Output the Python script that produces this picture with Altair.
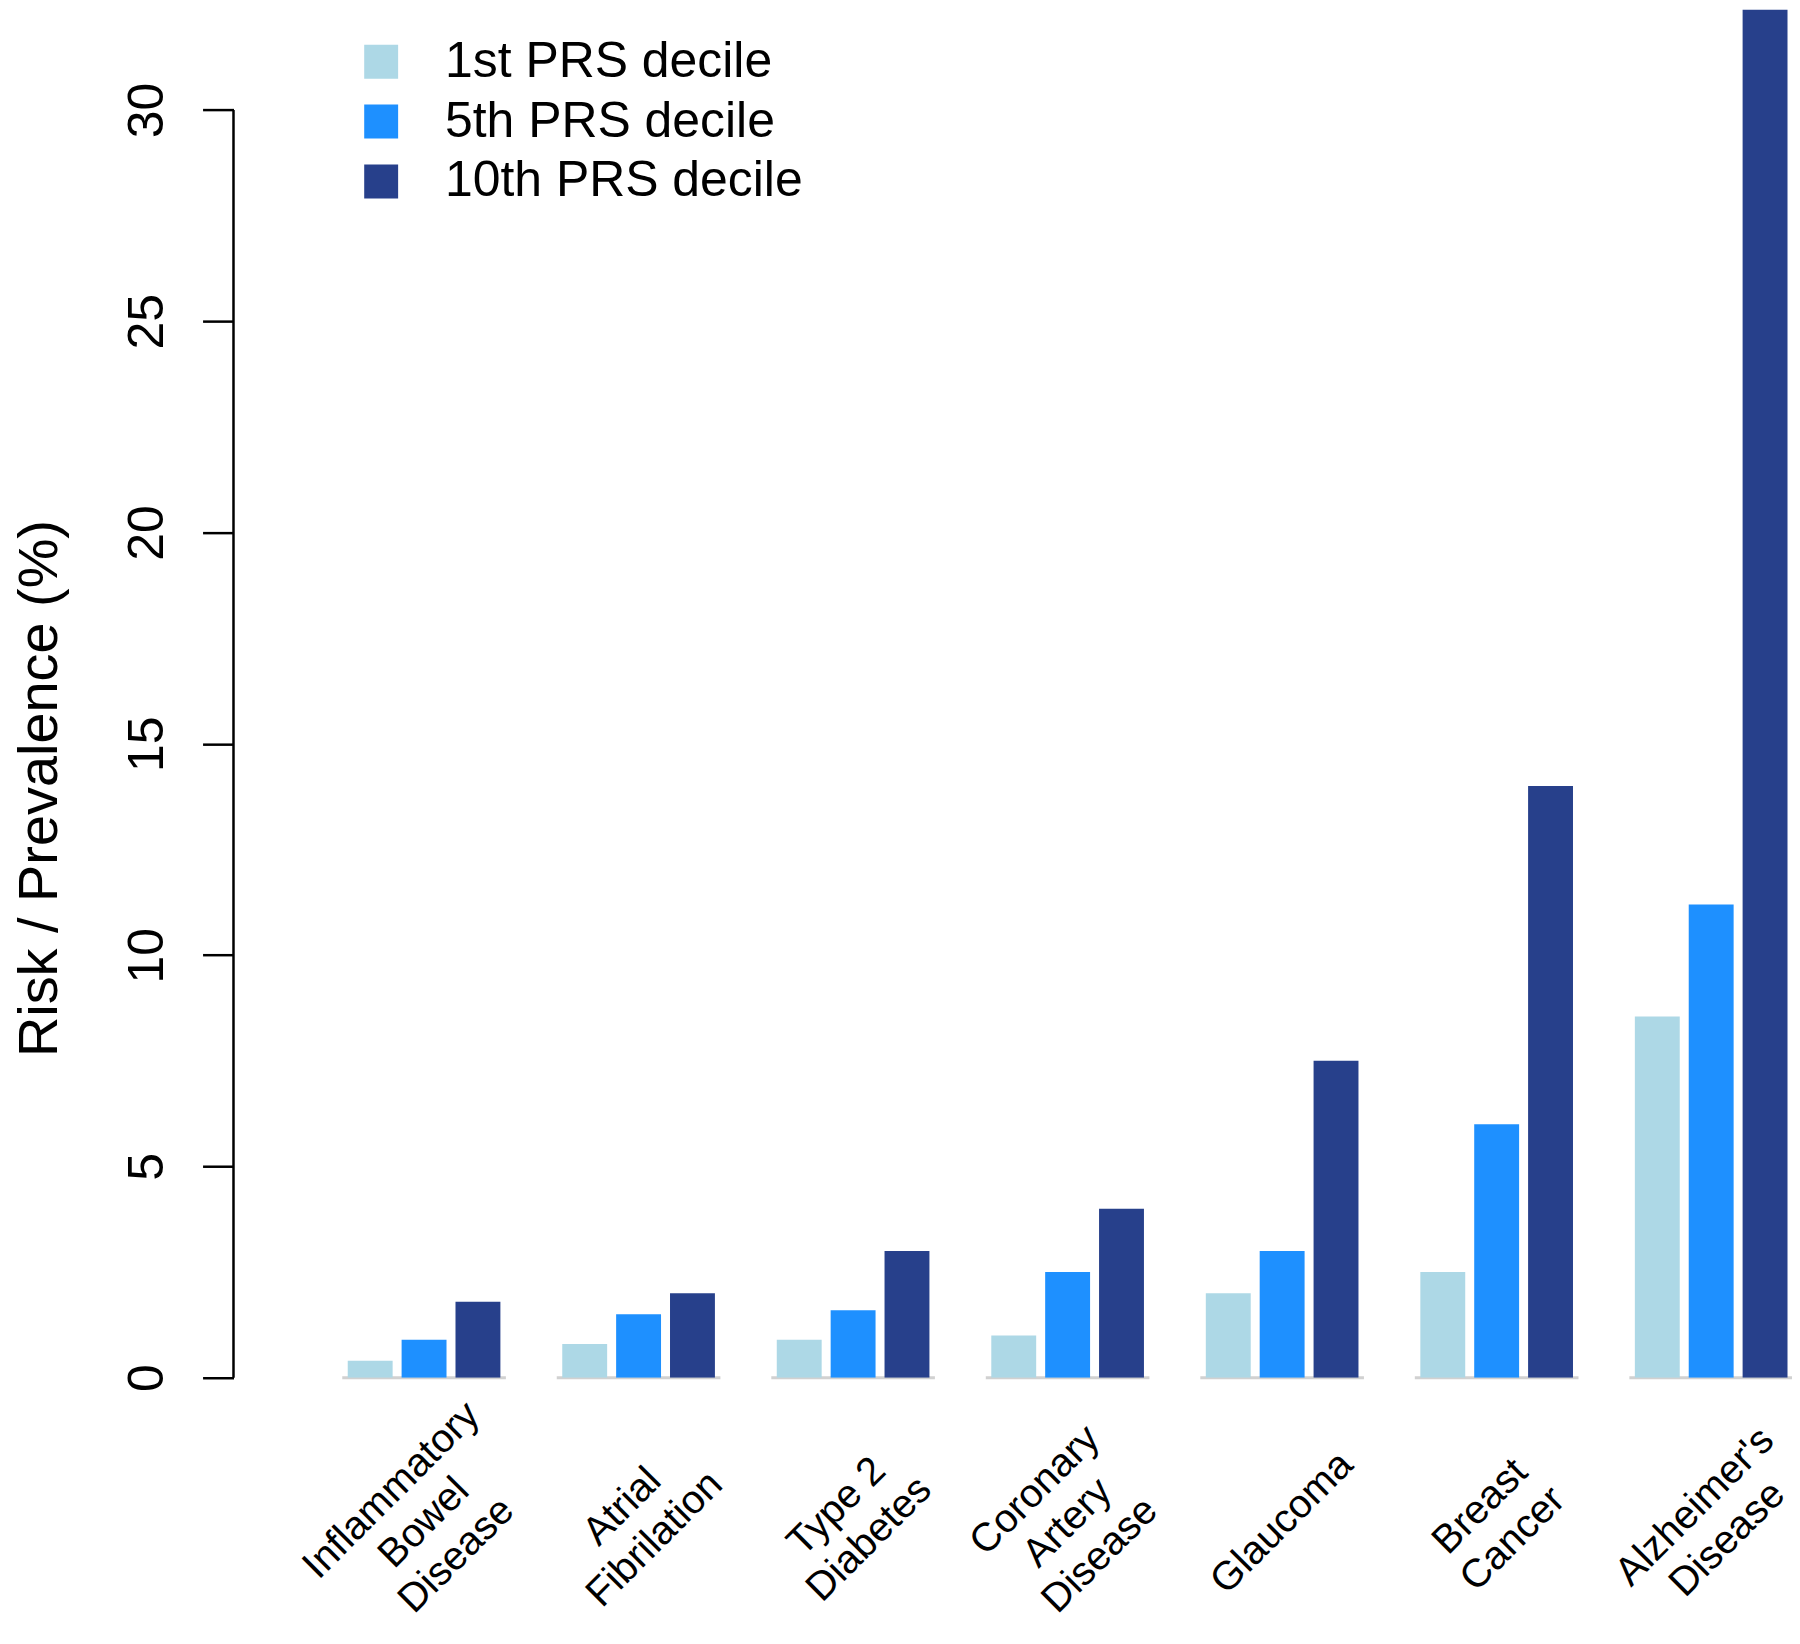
import altair as alt
import pandas as pd

categories = ["Inflammatory\nBowel\nDisease", "Atrial\nFibrilation", "Type 2\nDiabetes",
              "Coronary\nArtery\nDisease", "Glaucoma", "Breast\nCancer", "Alzheimer's\nDisease"]
deciles = ["1st PRS decile", "5th PRS decile", "10th PRS decile"]
first_decile = [0.4, 0.8, 0.9, 1.0, 2.0, 2.5, 8.55]
fifth_decile = [0.9, 1.5, 1.6, 2.5, 3.0, 6.0, 11.2]
tenth_decile = [1.8, 2.0, 3.0, 4.0, 7.5, 14.0, 32.5]
colors = ["#ADD8E6", "#1E90FF", "#27408B"]
y_ticks = [0, 5, 10, 15, 20, 25, 30]

rows = []
for series, vals in zip(deciles, [first_decile, fifth_decile, tenth_decile]):
    for c, v in zip(categories, vals):
        rows.append({"disease": c, "decile": series, "value": v})
df = pd.DataFrame(rows)
base_df = pd.DataFrame({"disease": categories, "zero": [0] * len(categories)})

FONT = "Liberation Sans"
LH = 46          # line height of the multi-line category labels
PAD = 145        # distance from baseline to label centre
SHIFT = LH * 0.7071 / 2  # per half-line shift along both axes for a 45 degree label

nlines = "length(split(datum.value, '\\n'))"

x_scale = alt.Scale(domain=categories, paddingInner=0.2465, paddingOuter=0.2558, align=1)
y_scale = alt.Scale(domain=[0, 32.37], nice=False, zero=True)

x_axis = alt.Axis(
    title=None, domain=False, ticks=False, tickSize=0, labelAngle=315,
    labelAlign="center", labelBaseline="middle", labelLimit=0,
    labelPadding={"condition": [{"test": f"{nlines} == 3", "value": PAD - 2 * SHIFT},
                                {"test": f"{nlines} == 2", "value": PAD - SHIFT}],
                  "value": PAD},
    labelOffset={"condition": [{"test": f"{nlines} == 3", "value": -2 * SHIFT},
                               {"test": f"{nlines} == 2", "value": -SHIFT}],
                 "value": 0},
    labelFont=FONT, labelFontSize=40, labelColor="black", labelLineHeight=LH,
    labelExpr="split(datum.label, '\\n')")
y_axis = alt.Axis(title="Risk / Prevalence (%)", values=y_ticks, grid=False, domain=False,
                  tickSize=31, tickWidth=2.5, tickColor="black",
                  labelAngle=270, labelAlign="center", labelBaseline="alphabetic",
                  labelPadding=40, labelFont=FONT, labelFontSize=50, labelColor="black",
                  titleFont=FONT, titleFontSize=56, titleFontWeight="normal", titleColor="black",
                  titleAngle=270, titleAlign="center", titleBaseline="alphabetic",
                  titleX=-177, titleY=780)

baseline = alt.Chart(base_df).mark_tick(size=164, thickness=3, color="#BEBEBE", orient="horizontal").encode(
    x=alt.X("disease:N", scale=x_scale, sort=categories, axis=x_axis),
    y=alt.Y("zero:Q", scale=y_scale, axis=y_axis),
)

bars = alt.Chart(df).mark_bar(clip=True).encode(
    x=alt.X("disease:N", scale=x_scale, sort=categories, axis=x_axis),
    xOffset=alt.XOffset("decile:N", sort=deciles,
                        scale=alt.Scale(domain=deciles, paddingInner=0.1667, paddingOuter=0.0833)),
    y=alt.Y("value:Q", scale=y_scale, axis=y_axis),
    color=alt.Color("decile:N", scale=alt.Scale(domain=deciles, range=colors),
                    legend=alt.Legend(title=None, orient="none", legendX=123, legendY=27,
                                      symbolType="square", symbolSize=1156, symbolStrokeWidth=0,
                                      labelFont=FONT, labelFontSize=50, labelColor="black",
                                      labelLimit=0, labelOffset=39, rowPadding=10, padding=0)),
)

axis_line = alt.Chart(pd.DataFrame({"lo": [y_ticks[0]], "hi": [y_ticks[-1]]})).mark_rule(
    color="black", strokeWidth=2.5).encode(
    x=alt.value(0),
    y=alt.Y("lo:Q", scale=y_scale, axis=y_axis),
    y2="hi:Q",
)

chart = alt.layer(baseline, bars, axis_line).properties(
    width=1562, height=1371,
    background="white",
    autosize=alt.AutoSizeParams(type="none"),
    padding={"left": 226, "top": 0, "right": 0, "bottom": 249},
).configure_view(stroke=None)

chart.save("out.html", embed_options={"renderer": "svg", "actions": False})
